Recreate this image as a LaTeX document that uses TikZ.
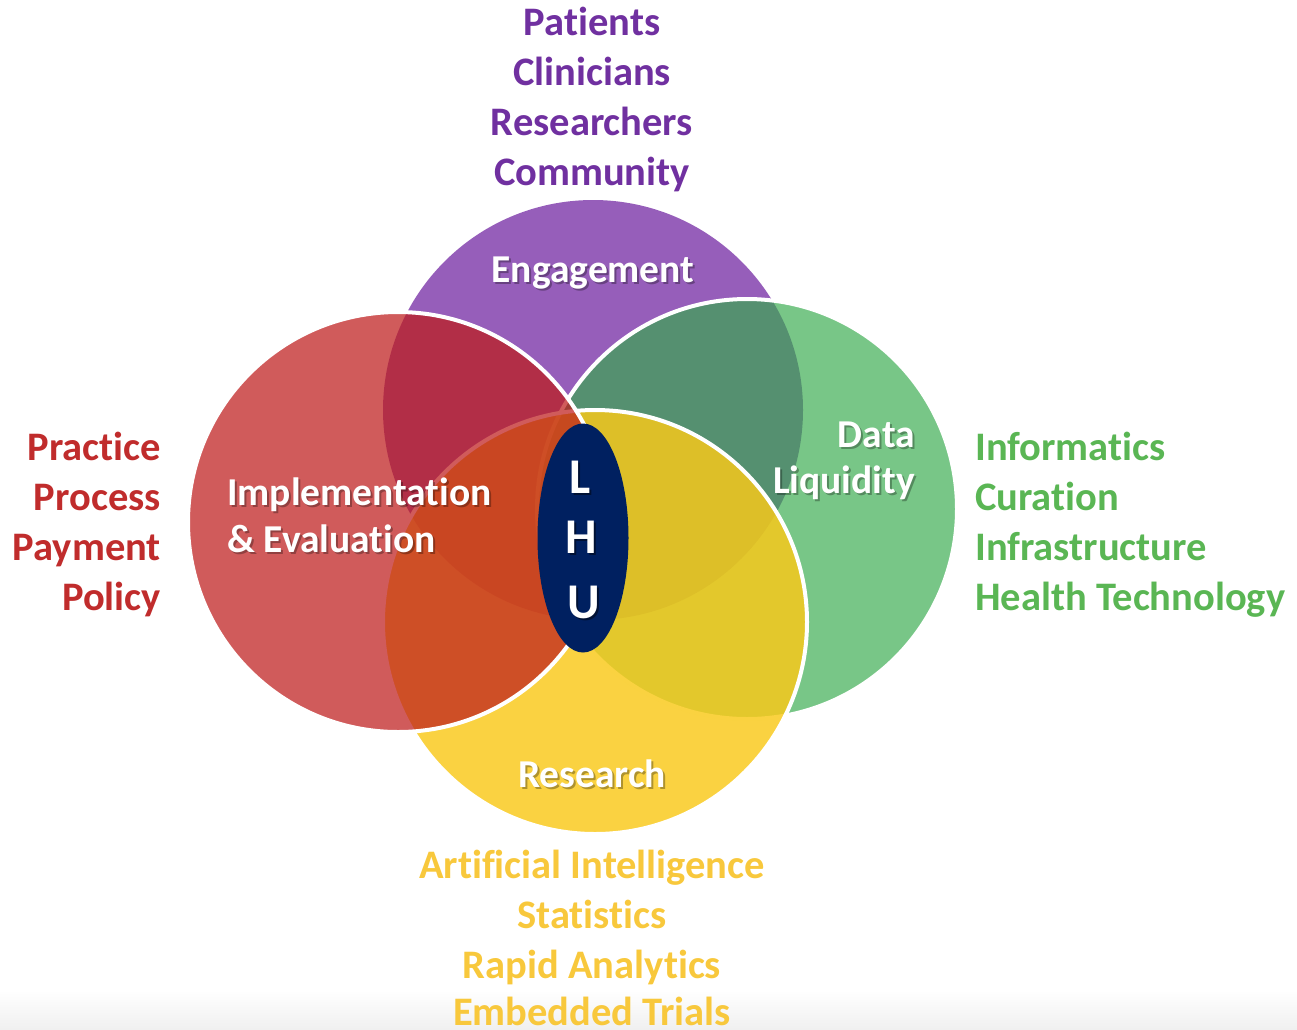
\documentclass[tikz,border=0pt]{standalone}
\usepackage{fontspec}
\setmainfont{Carlito}[Ligatures=NoCommon]
\usetikzlibrary{shapes.geometric}
\definecolor{cpurple}{RGB}{150,94,186}
\definecolor{cred}{RGB}{190,28,28}
\definecolor{cgreen}{RGB}{54,170,76}
\definecolor{cyellow}{RGB}{249,201,26}
\definecolor{cnavy}{RGB}{0,32,96}
\definecolor{tpurple}{RGB}{112,48,160}
\definecolor{tred}{RGB}{192,44,44}
\definecolor{tgreen}{RGB}{90,182,84}
\definecolor{tyellow}{RGB}{248,200,60}
\definecolor{fadegray}{RGB}{240,240,240}
\begin{document}
\begin{tikzpicture}[x=1pt,y=-1pt,
  circ/.style={circle, inner sep=0pt, minimum size=#1},
  ring/.style={draw=white, line width=4pt},
  outer/.style={font=\bfseries\fontsize{40.5}{46}\selectfont, inner sep=0pt},
  inlbl/.style={font=\bfseries\fontsize{39.5}{46}\selectfont, inner sep=0pt, text=white},
  shd/.style={font=\bfseries\fontsize{39.5}{46}\selectfont, inner sep=0pt, text=black, text opacity=0.3},
  lhu/.style={font=\bfseries\fontsize{50}{56}\selectfont, inner sep=0pt, text=white, anchor=base},
  lhushd/.style={font=\bfseries\fontsize{50}{56}\selectfont, inner sep=0pt, text=black, text opacity=0.45, anchor=base}
]
\useasboundingbox (0,0) rectangle (1297,1029);
\shade[top color=white, bottom color=fadegray] (0,990) rectangle (1297,1029);

% circles
\node[circ=420pt, fill=cpurple] (eng) at (593,410) {};
\node[circ=420pt, fill=cgreen, fill opacity=0.67, ring] (data) at (747,509) {};
\node[circ=424pt, fill=cyellow, fill opacity=0.83, ring] (res) at (595,622) {};
\node[circ=420pt, fill=cred, fill opacity=0.72, ring] (impl) at (398,522) {};

% center ellipse
\node[ellipse, fill=cnavy, minimum width=91pt, minimum height=229pt, inner sep=0pt] (lhuell) at (583,538) {};
\node[lhushd] (Ls) at (582.5,495) {L};
\node[lhushd] (Hs) at (583.5,555) {H};
\node[lhushd] (Us) at (585.5,620) {U};
\node[lhu] (L) at (580.5,493) {L};
\node[lhu] (H) at (581.5,553) {H};
\node[lhu] (U) at (583.5,618) {U};

% circle labels with shadow
\node[shd, anchor=base] (engs) at (595,284) {Engagement};
\node[inlbl, anchor=base] (engl) at (593,282) {Engagement};
\node[shd, anchor=base west] (impls1) at (229,507) {Implementation};
\node[shd, anchor=base west] (impls2) at (229,554) {\& Evaluation};
\node[inlbl, anchor=base west] (impl1) at (227,505) {Implementation};
\node[inlbl, anchor=base west] (impl2) at (227,552) {\& Evaluation};
\node[shd, anchor=base east] (datas1) at (917,449) {Data};
\node[shd, anchor=base east] (datas2) at (917,495) {Liquidity};
\node[inlbl, anchor=base east] (data1) at (915,447) {Data};
\node[inlbl, anchor=base east] (data2) at (915,493) {Liquidity};
\node[shd, anchor=base] (ress) at (594,789) {Research};
\node[inlbl, anchor=base] (resl) at (592,787) {Research};

% outer lists
\node[outer, text=tpurple, anchor=base] (t1) at (592,35) {Patients};
\node[outer, text=tpurple, anchor=base] (t2) at (592,85) {Clinicians};
\node[outer, text=tpurple, anchor=base] (t3) at (592,135) {Researchers};
\node[outer, text=tpurple, anchor=base] (t4) at (592,185) {Community};

\node[outer, text=tred, anchor=base east] (l1) at (161,460) {Practice};
\node[outer, text=tred, anchor=base east] (l2) at (161,510) {Process};
\node[outer, text=tred, anchor=base east] (l3) at (161,560) {Payment};
\node[outer, text=tred, anchor=base east] (l4) at (161,610) {Policy};

\node[outer, text=tgreen, anchor=base west] (r1) at (975,460) {Informatics};
\node[outer, text=tgreen, anchor=base west] (r2) at (975,510) {Curation};
\node[outer, text=tgreen, anchor=base west] (r3) at (975,560) {Infrastructure};
\node[outer, text=tgreen, anchor=base west] (r4) at (975,610) {Health Technology};

\node[outer, text=tyellow, anchor=base] (b1) at (592,878) {Artificial Intelligence};
\node[outer, text=tyellow, anchor=base] (b2) at (592,928) {Statistics};
\node[outer, text=tyellow, anchor=base] (b3) at (592,978) {Rapid Analytics};
\node[outer, text=tyellow, anchor=base] (b4) at (592,1025) {Embedded Trials};
\end{tikzpicture}
\end{document}
